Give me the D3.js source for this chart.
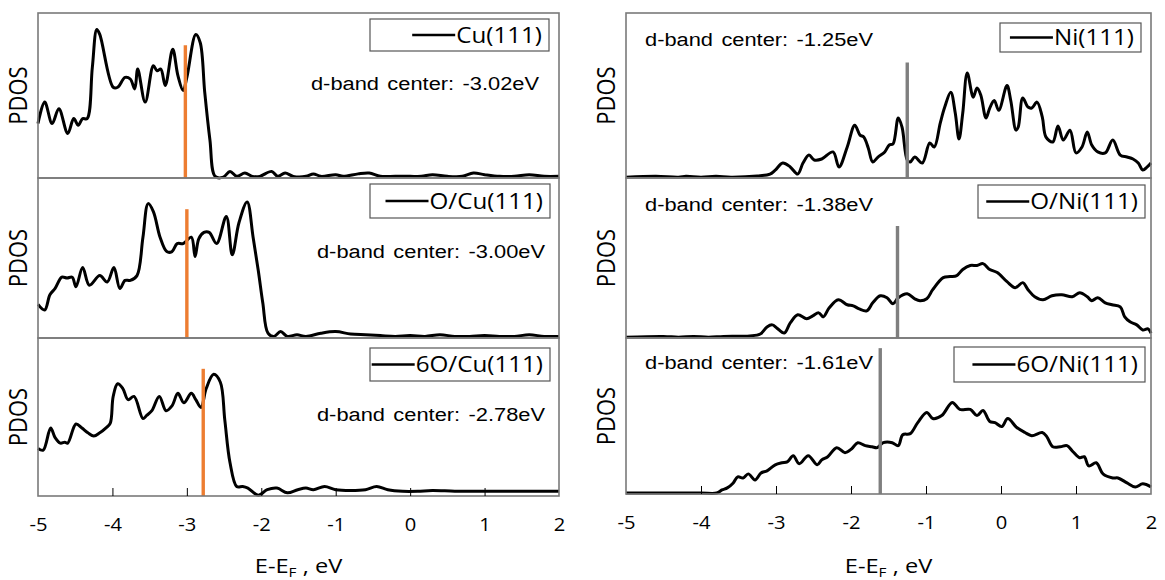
<!DOCTYPE html>
<html>
<head>
<meta charset="utf-8">
<script src="https://cdn.jsdelivr.net/npm/d3@7"></script>
<style>
  body { margin: 0; background: #fff; }
  svg { display: block; }
  .tick-label, .pdos, .legend-text, .xlabel { font-family: "Open Sans", "Noto Sans", sans-serif; fill: #000; }
  .note { font-family: "Liberation Sans", Arial, sans-serif; fill: #000; }
</style>
</head>
<body>
<svg id="chart" width="1165" height="580"></svg>
<script>
// PDOS curves, [E - E_F (eV), PDOS (arb. units, 0-100 of panel height)]
const cu111 = [[-5.00,33],[-4.91,46],[-4.81,33],[-4.72,42],[-4.60,27],[-4.52,36],[-4.46,32],[-4.40,36],[-4.34,36],
  [-4.27,67],[-4.21,90],[-4.17,87],[-3.99,55],[-3.93,55],[-3.83,61],[-3.76,60],[-3.70,54],[-3.66,66],[-3.56,46],
  [-3.45,68],[-3.40,65],[-3.35,66],[-3.29,56],[-3.19,78],[-3.12,62],[-3.05,53],[-3.00,61],[-2.88,87],[-2.82,82],
  [-2.76,52],[-2.69,23],[-2.62,1],[-2.51,0.5],[-2.42,4],[-2.33,1],[-2.22,3],[-2.12,1],[-2.02,1],[-1.86,4],[-1.78,1],
  [-1.68,3],[-1.57,1],[-1.4,1],[-1.3,2.5],[-1.2,1],[-1.0,2],[-0.9,1],[-0.7,2.5],[-0.55,3],[-0.4,1],[-0.2,1],[0.0,1],
  [0.15,1],[0.3,2],[0.5,1],[0.7,1],[0.85,3],[1.0,2],[1.2,1],[1.4,1],[1.6,2],[1.8,1],[2.0,1]];
const oCu111 = [[-5.00,21],[-4.91,17.5],[-4.84,27],[-4.77,31],[-4.68,38],[-4.61,37.5],[-4.54,38],[-4.49,32],[-4.40,44],
  [-4.31,33],[-4.17,39],[-4.07,35],[-3.98,44],[-3.90,31],[-3.83,36],[-3.76,36],[-3.67,39],[-3.59,63],[-3.52,84],
  [-3.45,79],[-3.36,63],[-3.27,54],[-3.20,54],[-3.13,59],[-3.05,59],[-2.94,63],[-2.89,51],[-2.84,62],[-2.77,66],
  [-2.70,66],[-2.60,59],[-2.47,76],[-2.39,52],[-2.30,72],[-2.19,85],[-2.11,63],[-2.04,42],[-1.98,22],[-1.91,3],
  [-1.83,1],[-1.74,4],[-1.65,1],[-1.52,2],[-1.4,1],[-1.2,3],[-1.0,4],[-0.8,2.5],[-0.6,2],[-0.4,1.5],[-0.2,1],
  [0.0,1.5],[0.2,1],[0.4,2],[0.6,1],[0.8,1],[1.0,1.5],[1.2,1],[1.4,1],[1.6,2],[1.8,1],[2.0,1]];
const o6Cu111 = [[-5.00,30],[-4.93,29],[-4.83,43],[-4.77,37],[-4.70,33.5],[-4.64,34],[-4.60,33.5],[-4.49,45.6],
  [-4.41,43],[-4.33,40],[-4.25,38],[-4.17,40],[-4.09,43],[-4.03,46],[-3.99,63],[-3.93,71],[-3.86,68],[-3.79,61],
  [-3.71,63],[-3.59,49],[-3.54,51],[-3.47,54],[-3.37,63],[-3.28,54],[-3.20,57],[-3.12,65],[-3.04,59],[-2.94,65],
  [-2.88,61],[-2.81,56],[-2.74,68],[-2.64,77],[-2.55,72],[-2.49,48],[-2.42,21],[-2.33,6],[-2.25,6],[-2.18,5],
  [-2.04,0.5],[-1.92,4],[-1.79,5],[-1.65,2],[-1.51,4],[-1.4,5],[-1.3,4],[-1.15,6],[-1.0,4],[-0.8,3.5],[-0.6,4],
  [-0.45,6],[-0.3,4],[-0.1,3],[0.1,3],[0.3,3.5],[0.6,3],[0.9,3],[1.2,3],[1.5,3],[1.8,3],[2.0,3]];
const ni111 = [[-5.0,0.5],[-4.6,1],[-4.3,0.5],[-4.2,1],[-4.0,0.5],[-3.8,1],[-3.6,0.5],[-3.25,1.2],[-3.08,2.4],
  [-3.01,4.8],[-2.91,9.1],[-2.81,6.7],[-2.71,2.4],[-2.64,9.1],[-2.56,13.9],[-2.49,10.9],[-2.39,11.5],[-2.24,15.8],
  [-2.16,6.7],[-2.05,18.8],[-1.95,32],[-1.88,26],[-1.83,24.8],[-1.77,18.2],[-1.71,9.7],[-1.64,12.7],[-1.55,15.8],
  [-1.49,20],[-1.44,20.6],[-1.37,36.4],[-1.32,30.9],[-1.25,10.9],[-1.21,9.7],[-1.15,12.7],[-1.05,9.1],[-0.95,21.2],
  [-0.89,18.8],[-0.81,33.3],[-0.75,43],[-0.67,52],[-0.61,39.4],[-0.56,23.6],[-0.51,39.4],[-0.45,63.6],[-0.37,49],
  [-0.32,54.5],[-0.27,50.3],[-0.20,36.4],[-0.15,42.4],[-0.09,47],[-0.03,41],[0.08,56],[0.13,47],[0.20,29],
  [0.23,30.9],[0.29,48.5],[0.36,43],[0.41,42.4],[0.48,46],[0.55,37],[0.60,24.8],[0.69,21.8],[0.76,31.5],[0.83,23],
  [0.92,29],[1.00,15.2],[1.08,18.8],[1.15,27.9],[1.21,20],[1.29,15.8],[1.39,15.2],[1.49,23],[1.59,13.9],[1.68,12.7],
  [1.76,11.5],[1.83,9.1],[1.89,4.8],[1.95,6.7],[2.0,9.1]];
const oNi111 = [[-5.0,0.5],[-4.5,1],[-4.3,0.5],[-4.1,1],[-3.9,0.5],[-3.7,1],[-3.35,1.3],[-3.21,2.5],[-3.12,6.9],
  [-3.05,8.2],[-2.99,6.3],[-2.89,3.1],[-2.81,9.4],[-2.71,14.5],[-2.59,12],[-2.51,13.8],[-2.43,15.7],[-2.37,13.2],
  [-2.29,18.9],[-2.17,23.9],[-2.05,20.8],[-1.97,20.1],[-1.89,18.2],[-1.79,17],[-1.71,22],[-1.61,26.4],[-1.52,25.2],
  [-1.44,21.4],[-1.37,25.2],[-1.25,27.7],[-1.15,24.5],[-1.08,23.3],[-0.99,24.5],[-0.91,30.2],[-0.77,37.7],
  [-0.68,38.4],[-0.59,39],[-0.51,42.8],[-0.41,45.3],[-0.32,45.3],[-0.24,46.5],[-0.15,42.8],[-0.05,40.9],[0.08,35.2],
  [0.19,31.4],[0.29,34.6],[0.36,30.2],[0.45,25.8],[0.56,23.9],[0.68,26.4],[0.81,27],[0.95,25.8],[1.05,28.3],
  [1.15,25.8],[1.21,23.3],[1.29,25.2],[1.39,22],[1.48,20.8],[1.59,19.5],[1.65,13.2],[1.72,10.1],[1.81,8.2],
  [1.89,5],[1.96,5.7],[2.0,3.1]];
const o6Ni111 = [[-5.0,0.6],[-4.6,0.6],[-4.0,0.6],[-3.79,0.6],[-3.72,2.6],[-3.65,3.9],[-3.57,7.1],[-3.51,11],
  [-3.44,10.3],[-3.37,12.9],[-3.28,9],[-3.20,13.5],[-3.12,14.8],[-3.01,18.7],[-2.92,20],[-2.85,20.6],[-2.77,24.5],
  [-2.69,19.4],[-2.57,24.5],[-2.45,18.7],[-2.39,21.9],[-2.31,23.9],[-2.19,29.7],[-2.08,26.5],[-1.99,29],[-1.91,32.9],
  [-1.81,31],[-1.72,30.3],[-1.65,29.7],[-1.57,32.9],[-1.45,32.9],[-1.37,31],[-1.31,38],[-1.21,38.7],[-1.11,45.8],
  [-0.99,52.3],[-0.91,48.4],[-0.79,50.3],[-0.65,58.7],[-0.55,54.2],[-0.41,54.2],[-0.32,50.3],[-0.24,53.5],
  [-0.15,46.5],[-0.08,45.8],[0.01,43.2],[0.09,48.4],[0.21,42.6],[0.32,39.4],[0.41,37.4],[0.55,39.4],[0.61,36.8],
  [0.69,30.3],[0.79,30.3],[0.88,31],[0.96,27.1],[1.05,23.2],[1.11,23.9],[1.17,18],[1.27,20],[1.36,12.9],[1.49,10.3],
  [1.56,10.3],[1.68,7.1],[1.79,4.5],[1.89,6.5],[2.0,4.5]];

const seriesNames = ['Cu(111)', 'O/Cu(111)', '6O/Cu(111)', 'Ni(111)', 'O/Ni(111)', '6O/Ni(111)'];
const dBandCenters = [-3.02, -3.00, -2.78, -1.25, -1.38, -1.61];
const centerTops = [80.5, 80.5, 80.5, 70, 70, 93.5];
const xTicks = [-5, -4, -3, -2, -1, 0, 1, 2];

// the original figure is a little stretched horizontally
const STRETCH = 1.18;

const svg = d3.select('#chart');
svg.append('rect').attr('width', 1165).attr('height', 580).attr('fill', '#fff');

// column layout: left = Cu, right = Ni
const columns = [
  { x0: 38, x1: 559, rows: [[13, 178], [178, 338], [338, 496]], color: '#ED7D31', notePos: 'right',
    legend: [{ bx: 370, by: 19, bw: 179, bh: 32 }, { bx: 370, by: 184, bw: 180, bh: 34 }, { bx: 370, by: 348, bw: 180, bh: 33 }],
    noteX: [539, 545, 545], noteY: [90, 258, 421] },
  { x0: 626, x1: 1151, rows: [[13, 178], [178, 338], [338, 494]], color: '#7F7F7F', notePos: 'left',
    legend: [{ bx: 1000, by: 23, bw: 141, bh: 29 }, { bx: 978, by: 185, bw: 167, bh: 33 }, { bx: 954, by: 347, bw: 191, bh: 35 }],
    noteX: [645, 645, 645], noteY: [46, 211, 369] },
];
const allSeries = [cu111, oCu111, o6Cu111, ni111, oNi111, o6Ni111];

function stretchedText(g, x, y, cls, size, anchor, str, sx = STRETCH) {
  return g.append('text')
    .attr('class', cls)
    .attr('transform', `translate(${x},${y}) scale(${sx},1)`)
    .attr('text-anchor', anchor)
    .attr('font-size', size)
    .text(str);
}

columns.forEach((col, ci) => {
  const x = d3.scaleLinear().domain([-5, 2]).range([col.x0, col.x1]);

  col.rows.forEach(([top, bottom], ri) => {
    const k = ci * 3 + ri;
    const y = d3.scaleLinear().domain([0, 100]).range([bottom, top]);
    const g = svg.append('g');

    // PDOS curve
    const line = d3.line()
      .x((d) => x(d[0]))
      .y((d) => y(d[1]))
      .curve(d3.curveCatmullRom.alpha(0.5));
    g.append('path')
      .datum(allSeries[k])
      .attr('d', line)
      .attr('fill', 'none')
      .attr('stroke', '#000')
      .attr('stroke-width', 3)
      .attr('stroke-linejoin', 'round');

    // d-band center marker
    g.append('line')
      .attr('x1', x(dBandCenters[k])).attr('x2', x(dBandCenters[k]))
      .attr('y1', y(centerTops[k])).attr('y2', y(0))
      .attr('stroke', col.color)
      .attr('stroke-width', 3.4);

    // panel frame
    g.append('rect')
      .attr('x', col.x0).attr('y', top)
      .attr('width', col.x1 - col.x0).attr('height', bottom - top)
      .attr('fill', 'none')
      .attr('stroke', '#7a7a7a')
      .attr('stroke-width', 1.6);

    // y label
    g.append('text')
      .attr('class', 'pdos')
      .attr('transform', `translate(${col.x0 - 11},${(top + bottom) / 2}) rotate(-90) scale(1,${STRETCH})`)
      .attr('text-anchor', 'middle')
      .attr('font-size', 22)
      .text('PDOS');

    // legend box
    const lg = col.legend[ri];
    g.append('rect')
      .attr('x', lg.bx).attr('y', lg.by)
      .attr('width', lg.bw).attr('height', lg.bh)
      .attr('fill', '#fff')
      .attr('stroke', '#555')
      .attr('stroke-width', 1.2);
    const lt = stretchedText(g, lg.bx + lg.bw - 7, lg.by + lg.bh / 2 + 7.5, 'legend-text', 22, 'end', seriesNames[k], 1.1);
    const tw = lt.node().getComputedTextLength() * 1.1;
    const lx1 = lg.bx + lg.bw - 7 - tw - 1;
    g.append('line')
      .attr('x1', lx1 - 43).attr('x2', lx1)
      .attr('y1', lg.by + lg.bh / 2).attr('y2', lg.by + lg.bh / 2)
      .attr('stroke', '#000')
      .attr('stroke-width', 2.4);

    // d-band annotation
    stretchedText(g, col.noteX[ri], col.noteY[ri], 'note', 19,
      col.notePos === 'right' ? 'end' : 'start',
      `d-band center: ${dBandCenters[k].toFixed(2)}eV`, 1.15)
      .attr('word-spacing', 2);

    // bottom axis on last row
    if (ri === 2) {
      const axis = g.append('g')
        .attr('transform', `translate(0,${bottom})`)
        .call(d3.axisBottom(x).tickValues(xTicks).tickSize(-8).tickSizeOuter(0).tickFormat((d) => `${d < 0 ? '-' : ''}${Math.abs(d)}`));
      axis.select('.domain').remove();
      axis.selectAll('line').attr('stroke', '#000').attr('stroke-width', 1);
      axis.selectAll('text')
        .attr('class', 'tick-label')
        .attr('font-size', 18)
        .attr('dy', 0)
        .attr('y', 0)
        .attr('transform', `translate(0,35) scale(1.12,1)`);
      axis.selectAll('.tick').filter((d) => d === -5 || d === 2).select('line').remove();

      const xl = stretchedText(g, (col.x0 + col.x1) / 2, 573, 'xlabel', 20, 'middle', null);
      xl.append('tspan').text('E-E');
      xl.append('tspan').attr('font-size', 13).attr('dy', 4).text('F');
      xl.append('tspan').attr('dy', -4).text(' , eV');
    }
  });
});
</script>
</body>
</html>
